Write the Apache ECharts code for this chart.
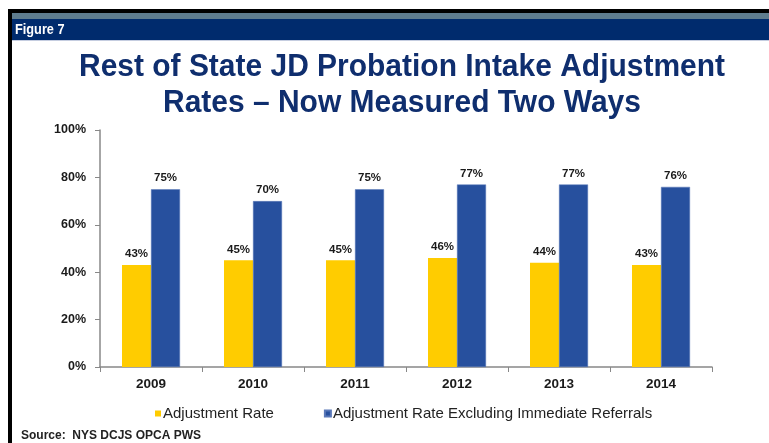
<!DOCTYPE html>
<html>
<head>
<meta charset="utf-8">
<script src="https://cdn.jsdelivr.net/npm/echarts@6/dist/echarts.min.js"></script>
<style>
  html, body { margin: 0; padding: 0; background: #fff; }
  #main { width: 769px; height: 443px; }
</style>
</head>
<body>
<div id="main"></div>
<script>
var years = ['2009', '2010', '2011', '2012', '2013', '2014'];
var adjRate = [43, 45, 45, 46, 44, 43];
var adjRateExcl = [75, 70, 75, 77, 77, 76];
var yTicks = [0, 20, 40, 60, 80, 100];
var titleLines = ['Rest of State JD Probation Intake Adjustment', 'Rates \u2013 Now Measured Two Ways'];

var chart = echarts.init(document.getElementById('main'));

// the original uses a condensed bold face: squeeze Arial-like bold to the same width
var titleFont = 'bold 31px "Liberation Sans"';
var ctx = document.createElement('canvas').getContext('2d');
ctx.font = titleFont;
var titleScale = 646 / ctx.measureText(titleLines[0]).width;

var option = {
    backgroundColor: '#ffffff',
    animation: false,
    graphic: [
        // frame + header bands
        { type: 'rect', shape: { x: 8, y: 9, width: 761, height: 4 }, style: { fill: '#000' } },
        { type: 'rect', shape: { x: 8, y: 9, width: 4, height: 434 }, style: { fill: '#000' } },
        { type: 'rect', shape: { x: 12, y: 13, width: 757, height: 6 }, style: { fill: '#5f7d8f' } },
        { type: 'rect', shape: { x: 12, y: 19, width: 757, height: 21 }, style: { fill: '#002b6d' } },
        { type: 'rect', shape: { x: 12, y: 40, width: 757, height: 1 }, style: { fill: '#c5cde0' } },
        {
            type: 'text', x: 15, y: 30, scaleX: 0.85,
            style: { text: 'Figure 7', fill: '#fff', font: 'bold 15px "Liberation Sans"', align: 'left', verticalAlign: 'middle' }
        },
        {
            type: 'text', x: 402, y: 67, scaleX: titleScale,
            style: { text: titleLines[0], fill: '#0f2e6e', font: titleFont, align: 'center', verticalAlign: 'middle' }
        },
        {
            type: 'text', x: 402, y: 103, scaleX: titleScale,
            style: { text: titleLines[1], fill: '#0f2e6e', font: titleFont, align: 'center', verticalAlign: 'middle' }
        },
        {
            type: 'text', x: 21, y: 436,
            style: { text: 'Source:  NYS DCJS OPCA PWS', fill: '#222', font: 'bold 12px "Liberation Sans"', align: 'left', verticalAlign: 'middle' }
        }
    ],
    legend: {
        left: 150,
        top: 401,
        itemWidth: 6,
        itemHeight: 6,
        itemGap: 50,
        icon: 'rect',
        textStyle: { fontFamily: 'Liberation Sans', fontSize: 15, color: '#222', padding: [0, 0, 0, -3] },
        data: ['Adjustment Rate', 'Adjustment Rate Excluding Immediate Referrals']
    },
    grid: { left: 100, right: 57, top: 130, bottom: 76 },
    xAxis: {
        type: 'category',
        data: years,
        axisLine: { lineStyle: { color: '#888', width: 1.5 } },
        axisTick: { show: true, length: 5, alignWithLabel: false, lineStyle: { color: '#888' } },
        axisLabel: {
            fontFamily: 'Liberation Sans', fontWeight: 'bold', fontSize: 13.5, color: '#1a1a1a', margin: 10
        }
    },
    yAxis: {
        type: 'value',
        min: 0,
        max: 100,
        interval: 20,
        splitLine: { show: false },
        axisLine: { show: true, lineStyle: { color: '#888', width: 1.5 } },
        axisTick: { show: true, length: 5, lineStyle: { color: '#888' } },
        axisLabel: {
            fontFamily: 'Liberation Sans', fontWeight: 'bold', fontSize: 12.5, color: '#1a1a1a', margin: 14,
            formatter: function (v) { return yTicks.indexOf(v) >= 0 ? v + '%' : ''; }
        }
    },
    series: [
        {
            name: 'Adjustment Rate',
            type: 'bar',
            data: adjRate,
            barWidth: 29,
            barGap: '0%',
            itemStyle: { color: '#ffcc00' },
            label: {
                show: true, position: 'top', distance: 5, formatter: '{c}%',
                fontFamily: 'Liberation Sans', fontWeight: 'bold', fontSize: 11.5, color: '#1a1a1a'
            }
        },
        {
            name: 'Adjustment Rate Excluding Immediate Referrals',
            type: 'bar',
            data: adjRateExcl,
            barWidth: 29,
            barGap: '0%',
            itemStyle: { color: '#27509e', borderColor: '#5a78b8', borderWidth: 0.5 },
            label: {
                show: true, position: 'top', distance: 5, formatter: '{c}%',
                fontFamily: 'Liberation Sans', fontWeight: 'bold', fontSize: 11.5, color: '#1a1a1a'
            }
        }
    ]
};

chart.setOption(option);
</script>
</body>
</html>
